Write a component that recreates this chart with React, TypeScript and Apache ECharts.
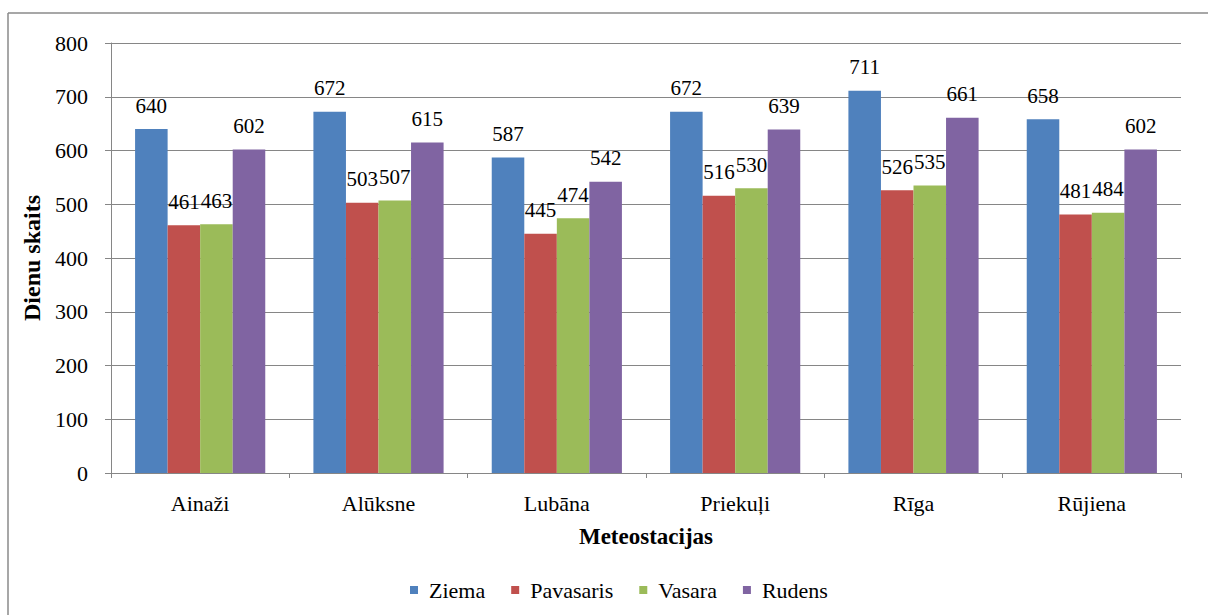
import React, { useEffect, useRef } from "react";
import * as echarts from "echarts";

const categories = ["Ainaži", "Alūksne", "Lubāna", "Priekuļi", "Rīga", "Rūjiena"];
const seriesNames = ["Ziema", "Pavasaris", "Vasara", "Rudens"];
const ziema = [640, 672, 587, 672, 711, 658];
const pavasaris = [461, 503, 445, 516, 526, 481];
const vasara = [463, 507, 474, 530, 535, 484];
const rudens = [602, 615, 542, 639, 661, 602];
const colors = ["#4F81BD", "#C0504D", "#9BBB59", "#8064A2"];

const FONT = "Liberation Serif";

export default function App() {
  const ref = useRef<HTMLDivElement>(null);
  useEffect(() => {
    document.body.style.margin = "0";
    const chart = echarts.init(ref.current!, null, { renderer: "svg" });
    const values = [ziema, pavasaris, vasara, rudens];
    chart.setOption({
      animation: false,
      backgroundColor: "#ffffff",
      textStyle: { fontFamily: FONT, color: "#000" },
      graphic: [
        { type: "line", shape: { x1: 8, y1: 13, x2: 1208, y2: 13 }, style: { stroke: "#8a8a8a", lineWidth: 1.5 } },
        { type: "line", shape: { x1: 8, y1: 13, x2: 8, y2: 615 }, style: { stroke: "#8a8a8a", lineWidth: 1.5 } },
      ],
      grid: { left: 111, right: 27, top: 43, bottom: 142 },
      legend: {
        top: 574,
        left: 405,
        itemWidth: 8,
        itemHeight: 8,
        itemGap: 26,
        icon: "rect",
        textStyle: { fontFamily: FONT, fontSize: 22, color: "#000", padding: [0, 0, 0, 6] },
        data: seriesNames,
      },
      xAxis: {
        type: "category",
        data: categories,
        name: "Meteostacijas",
        nameLocation: "middle",
        nameGap: 52,
        nameTextStyle: { fontFamily: FONT, fontSize: 23, fontWeight: "bold", color: "#000" },
        axisLine: { lineStyle: { color: "#868686" } },
        axisTick: { show: true, length: 5, lineStyle: { color: "#868686" } },
        axisLabel: { fontFamily: FONT, fontSize: 22, color: "#000", margin: 19 },
      },
      yAxis: {
        type: "value",
        min: 0,
        max: 800,
        interval: 100,
        name: "Dienu skaits",
        nameLocation: "middle",
        nameRotate: 90,
        nameGap: 64,
        nameTextStyle: { fontFamily: FONT, fontSize: 24, fontWeight: "bold", color: "#000" },
        axisLine: { show: true, lineStyle: { color: "#868686" } },
        axisTick: { show: true, length: 6, lineStyle: { color: "#868686" } },
        axisLabel: { fontFamily: FONT, fontSize: 22, color: "#000", margin: 23 },
        splitLine: { lineStyle: { color: "#868686" } },
      },
      series: seriesNames.map((name, i) => ({
        name,
        type: "bar",
        data: values[i],
        barGap: "0%",
        barCategoryGap: "27%",
        itemStyle: { color: colors[i] },
        label: {
          show: true,
          position: "top",
          distance: 13,
          fontFamily: FONT,
          fontSize: 21,
          color: "#000",
        },
      })),
    });
    return () => chart.dispose();
  }, []);
  return <div ref={ref} style={{ width: 1208, height: 615 }} />;
}
